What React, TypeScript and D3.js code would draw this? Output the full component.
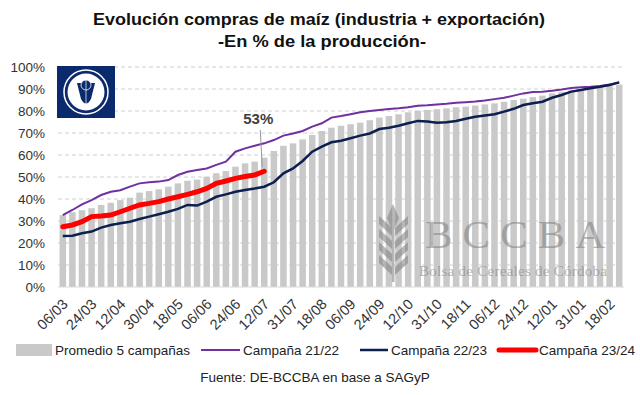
import React from 'react'
import * as d3 from 'd3'

const tickLabels = [
  '06/03', '24/03', '12/04', '30/04', '18/05', '06/06', '24/06', '12/07', '31/07', '18/08',
  '06/09', '24/09', '12/10', '31/10', '18/11', '06/12', '24/12', '12/01', '31/01', '18/02',
]

// promedio 5 campañas (one bar per period)
const promedio = [
  32.7, 34, 34.9, 35.8, 37.3, 38.3, 39.5, 40.6, 42.9, 43.6, 44.4, 45.6, 47.1, 48.3, 48.8, 50.1, 51.7,
  52.7, 54.7, 56.2, 57, 58.8, 61.8, 64.2, 65.3, 67.1, 69.1, 70.9, 72.4, 73.3, 74, 74.7, 75.8, 77, 77.7,
  78.5, 79.4, 80.1, 80.5, 80.8, 81.2, 81.7, 82, 82.5, 83, 83.5, 84.2, 85, 85.6, 86.3, 87, 88, 88.7,
  89.3, 89.8, 90.2, 90.8, 91.3, 92,
]

const campana2122 = [
  32.7, 35, 37.6, 39.5, 41.8, 43.3, 44, 45.6, 47.1, 47.6, 47.9, 48.6, 50.9, 52.4, 53.2, 53.9, 55.5,
  57, 61.5, 63, 64.2, 65.3, 66.8, 68.8, 69.8, 70.9, 72.9, 74.4, 77, 77.7, 78.5, 79.4, 80, 80.5, 80.9,
  81.2, 81.7, 82.4, 82.6, 83, 83.3, 83.7, 84, 84.3, 84.8, 85.4, 86, 87, 88, 88.6, 88.8, 89.2, 89.8,
  90.5, 90.8, 91, 91.4, 92, 93,
]

const campana2223 = [
  23.2, 23.3, 24.4, 25.2, 27, 28.2, 29, 29.7, 30.9, 32, 33.1, 34.2, 35.5, 37.3, 37, 38.8, 41,
  42.1, 43.3, 44.1, 44.8, 45.6, 47.6, 51.7, 53.9, 57.3, 61.5, 63.8, 65.8, 66.5, 67.6, 68.8, 69.8,
  71.8, 72.4, 73.3, 74.4, 75.5, 75.2, 74.7, 74.9, 75.5, 76.5, 77.4, 78, 78.5, 79.7, 81, 82.7, 83.5,
  84.2, 86, 87.3, 88.8, 89.5, 90.3, 91, 91.8, 93,
]

const campana2324 = [
  27.4, 28.2, 29.7, 32, 32.3, 32.7, 34.2, 35.8, 37.3, 38, 38.8, 40, 41, 42.1, 43.3, 44.8, 47.1,
  48.2, 49.4, 50.2, 50.9, 52.6,
]

const yTicks = [0, 10, 20, 30, 40, 50, 60, 70, 80, 90, 100]

const font = '"Liberation Sans", Arial, sans-serif'

const App: React.FunctionComponent = () => {
  const width = 640
  const height = 395

  const x = d3
    .scaleBand<number>()
    .domain(promedio.map((_, i) => i))
    .range([58, 624])
    .paddingInner(0.32)
    .paddingOuter(0.16)

  const y = d3.scaleLinear().domain([0, 100]).range([287, 67])

  const cx = (i: number) => (x(i) ?? 0) + x.bandwidth() / 2

  const line = d3
    .line<number>()
    .x((_, i) => cx(i))
    .y(d => y(d))

  const last = campana2324.length - 1

  return (
    <svg width={width} height={height} style={{ position: 'absolute', left: 0, top: 0 }}>
      <rect width={width} height={height} fill="#fff" />

      <text
        x={319}
        y={25}
        textAnchor="middle"
        fontFamily={font}
        fontWeight="bold"
        fontSize={17}
        fill="#111"
        textLength={452}
        lengthAdjust="spacingAndGlyphs"
      >
        Evolución compras de maíz (industria + exportación)
      </text>
      <text
        x={322}
        y={47}
        textAnchor="middle"
        fontFamily={font}
        fontWeight="bold"
        fontSize={17}
        fill="#111"
        textLength={208}
        lengthAdjust="spacingAndGlyphs"
      >
        -En % de la producción-
      </text>

      {yTicks.map(t => (
        <g key={t}>
          {t > 0 && (
            <line x1={58} x2={624} y1={y(t)} y2={y(t)} stroke="#d0d0d0" strokeDasharray="4,3" />
          )}
          <text x={45} y={y(t) + 5} textAnchor="end" fontFamily={font} fontSize={13.5} fill="#333">
            {t}%
          </text>
        </g>
      ))}

      {promedio.map((d, i) => (
        <rect key={i} x={x(i)} y={y(d)} width={x.bandwidth()} height={y(0) - y(d)} fill="#c9c9c9" />
      ))}
      <line x1={58} x2={624} y1={y(0)} y2={y(0)} stroke="#d9d9d9" />

      {/* watermark */}
      <g opacity={0.55} fill="#7f7f7f">
        <rect x={392} y={226} width={2.5} height={56} />
        <path d="M393,204 L399,218 L393,232 L387,218 Z" />
        {[0, 1, 2, 3].map(k => (
          <g key={k}>
            <path d={`M392,${236 + k * 13} L379,${224 + k * 13} L379,${216 + k * 13} L392,${228 + k * 13} Z`} />
            <path d={`M395,${236 + k * 13} L408,${224 + k * 13} L408,${216 + k * 13} L395,${228 + k * 13} Z`} />
          </g>
        ))}
        <text
          x={425}
          y={248}
          fontFamily='"Liberation Serif", "DejaVu Serif", serif'
          fontSize={41}
          textLength={180}
          lengthAdjust="spacing"
        >
          BCCBA
        </text>
        <text
          x={419}
          y={276}
          fontFamily='"Liberation Serif", "DejaVu Serif", serif'
          fontSize={15}
          textLength={188}
          lengthAdjust="spacing"
        >
          Bolsa de Cereales de Córdoba
        </text>
      </g>

      <path d={line(campana2122) ?? ''} fill="none" stroke="#7030a0" strokeWidth={2} />
      <path d={line(campana2223) ?? ''} fill="none" stroke="#0c1f4f" strokeWidth={2.5} />
      <path d={line(campana2324) ?? ''} fill="none" stroke="#ff0000" strokeWidth={5} strokeLinecap="round" />

      <line x1={cx(last) - 4} x2={cx(last) - 2} y1={130} y2={y(campana2324[last]) - 4} stroke="#999" />
      <text x={cx(last) - 6} y={124} textAnchor="middle" fontFamily={font} fontWeight="bold" fontSize={15} fill="#404040">
        53%
      </text>

      {/* logo */}
      <rect x={57} y={66} width={58} height={52} fill="#0b2a6e" />
      <circle cx={86} cy={92} r={22} fill="none" stroke="#fff" strokeWidth={1.5} />
      <circle cx={86} cy={92} r={18.5} fill="#fff" />
      <path d="M77,83 L95,83 L91,99 Q86,108 81,99 Z" fill="#0b2a6e" />
      <circle cx={86} cy={85} r={5} fill="#0b2a6e" stroke="#fff" strokeWidth={0.8} />
      <line x1={86} x2={86} y1={80} y2={104} stroke="#fff" strokeWidth={0.7} />

      {tickLabels.map((label, j) => {
        const tx = cx(j * 3) + 6
        const ty = 305
        return (
          <text
            key={label}
            x={tx}
            y={ty}
            textAnchor="end"
            transform={`rotate(-45 ${tx} ${ty})`}
            fontFamily={font}
            fontSize={14.5}
            fill="#333"
          >
            {label}
          </text>
        )
      })}

      {/* legend */}
      <g fontFamily={font} fontSize={13.5} fill="#222">
        <rect x={16} y={344} width={36} height={12} fill="#c9c9c9" />
        <text x={55} y={355}>Promedio 5 campañas</text>
        <line x1={201} x2={240} y1={350} y2={350} stroke="#7030a0" strokeWidth={2} />
        <text x={243} y={355}>Campaña 21/22</text>
        <line x1={360} x2={388} y1={350} y2={350} stroke="#0c1f4f" strokeWidth={2.5} />
        <text x={391} y={355}>Campaña 22/23</text>
        <line x1={499} x2={536} y1={350} y2={350} stroke="#ff0000" strokeWidth={5} strokeLinecap="round" />
        <text x={539} y={355}>Campaña 23/24</text>
      </g>

      <text x={315} y={382} textAnchor="middle" fontFamily={font} fontSize={13.5} fill="#222">
        Fuente: DE-BCCBA en base a SAGyP
      </text>
    </svg>
  )
}

export default App
